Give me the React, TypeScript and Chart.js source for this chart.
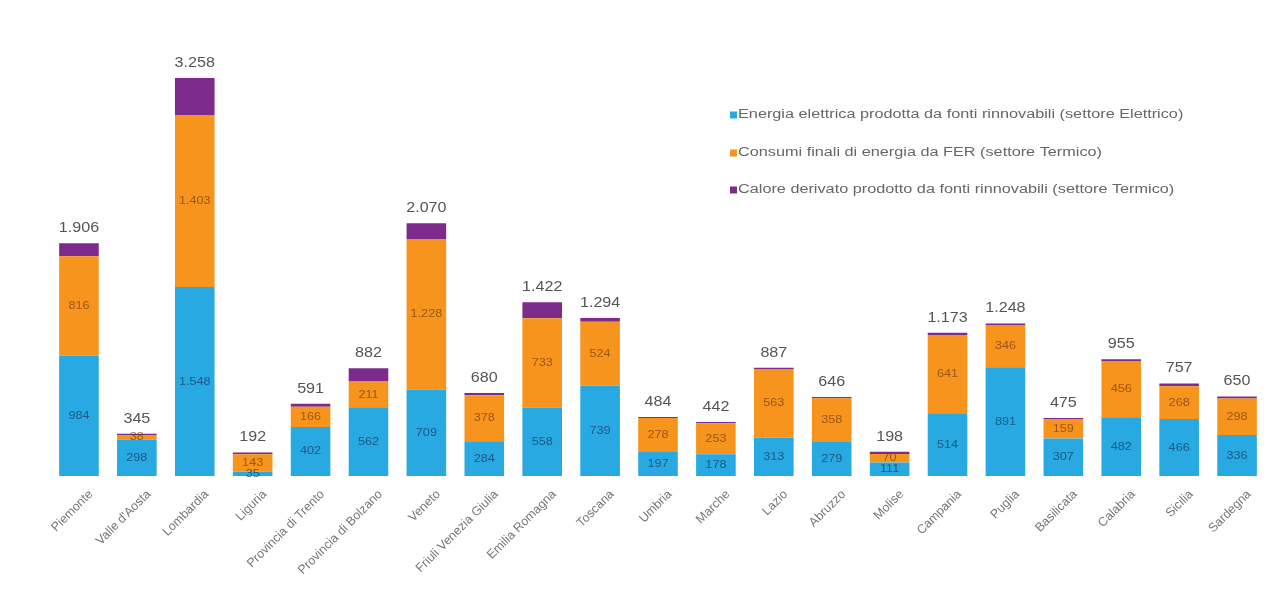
import React, { useEffect, useRef } from 'react';
import { Chart, registerables } from 'chart.js';
Chart.register(...registerables);

const regions = [
  'Piemonte', "Valle d'Aosta", 'Lombardia', 'Liguria', 'Provincia di Trento', 'Provincia di Bolzano',
  'Veneto', 'Friuli Venezia Giulia', 'Emilia Romagna', 'Toscana', 'Umbria', 'Marche', 'Lazio',
  'Abruzzo', 'Molise', 'Campania', 'Puglia', 'Basilicata', 'Calabria', 'Sicilia', 'Sardegna',
];
const elettrico = [984, 298, 1548, 35, 402, 562, 709, 284, 558, 739, 197, 178, 313, 279, 111, 514, 891, 307, 482, 466, 336];
const termico = [816, 38, 1403, 143, 166, 211, 1228, 378, 733, 524, 278, 253, 563, 358, 70, 641, 346, 159, 456, 268, 298];
const calore = [106, 9, 307, 14, 23, 109, 133, 18, 131, 31, 9, 11, 11, 9, 17, 18, 11, 9, 17, 23, 16];
const seriesLabels = [
  'Energia elettrica prodotta da fonti rinnovabili (settore Elettrico)',
  'Consumi finali di energia da FER (settore Termico)',
  'Calore derivato prodotto da fonti rinnovabili (settore Termico)',
];
const seriesColors = ['#29a9e1', '#f7941d', '#7d2b8b'];

const fmt = (v: number) => v.toString().replace(/\B(?=(\d{3})+(?!\d))/g, '.');
const FONT = '"Liberation Sans", Arial, sans-serif';

function wideText(ctx: any, text: string, x: number, y: number, sx: number, align: string) {
  ctx.save();
  ctx.translate(x, y);
  ctx.scale(sx, 1);
  ctx.textAlign = align;
  ctx.fillText(text, 0, 0);
  ctx.restore();
}

const labelsPlugin = {
  id: 'customLabels',
  afterDatasetsDraw(chart: any) {
    const ctx = chart.ctx;
    ctx.save();
    // segment labels (blue and orange)
    ctx.textBaseline = 'middle';
    ctx.font = `11px ${FONT}`;
    [0, 1].forEach((di) => {
      const meta = chart.getDatasetMeta(di);
      meta.data.forEach((bar: any, i: number) => {
        const v = chart.data.datasets[di].data[i];
        const y = (bar.y + bar.base) / 2;
        ctx.fillStyle = di === 0 ? 'rgba(25,70,110,0.8)' : 'rgba(120,70,20,0.75)';
        wideText(ctx, fmt(v), bar.x, y, 1.15, 'center');
      });
    });
    // totals
    ctx.font = `14px ${FONT}`;
    ctx.fillStyle = '#555';
    ctx.textBaseline = 'bottom';
    const topMeta = chart.getDatasetMeta(2);
    topMeta.data.forEach((bar: any, i: number) => {
      const total = elettrico[i] + termico[i] + calore[i];
      wideText(ctx, fmt(total), bar.x, bar.y - 8, 1.15, 'center');
    });
    // legend
    ctx.font = `12.5px ${FONT}`;
    ctx.textBaseline = 'middle';
    const lx = 730;
    const ys = [115, 153, 190];
    seriesLabels.forEach((t, k) => {
      ctx.fillStyle = seriesColors[k];
      ctx.fillRect(lx, ys[k] - 3.5, 7, 7);
      ctx.fillStyle = '#666';
      wideText(ctx, t, lx + 8, ys[k], 1.3, 'left');
    });
    ctx.restore();
  },
};

export default function App() {
  const ref = useRef<HTMLCanvasElement>(null);
  useEffect(() => {
    if (!ref.current) return;
    const chart = new Chart(ref.current, {
      type: 'bar',
      data: {
        labels: regions,
        datasets: [elettrico, termico, calore].map((d, k) => ({
          label: seriesLabels[k],
          data: d,
          backgroundColor: seriesColors[k],
          borderWidth: 0,
          categoryPercentage: 0.76,
          barPercentage: 0.9,
        })),
      },
      options: {
        animation: false,
        responsive: true,
        maintainAspectRatio: false,
        layout: { padding: { left: 50, right: 16, top: 40, bottom: 0 } },
        plugins: { legend: { display: false }, tooltip: { enabled: false } },
        scales: {
          x: {
            stacked: true,
            grid: { display: false },
            border: { display: false },
            ticks: {
              minRotation: 45,
              maxRotation: 45,
              autoSkip: false,
              labelOffset: 12,
              color: '#777',
              font: { size: 12.5, family: FONT },
            },
            afterFit: (s: any) => { s.height = 120; },
          },
          y: {
            stacked: true,
            display: false,
            min: 0,
            max: 3570,
          },
        },
      },
      plugins: [labelsPlugin],
    });
    return () => chart.destroy();
  }, []);
  return (
    <div style={{ position: 'absolute', left: 0, top: 0, width: 1282, height: 596, background: '#fff' }}>
      <canvas ref={ref} />
    </div>
  );
}
